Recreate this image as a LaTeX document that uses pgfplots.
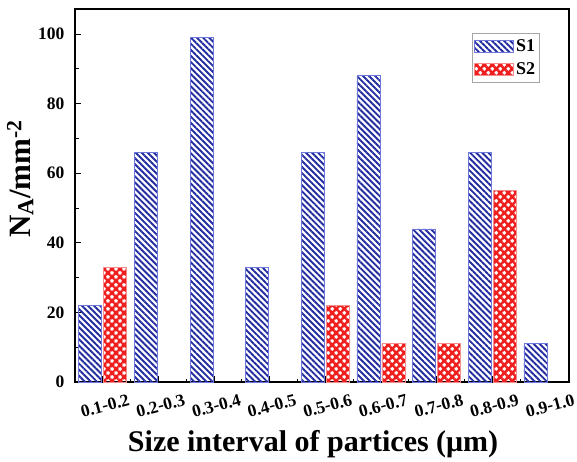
\documentclass[border=0pt]{standalone}
\usepackage{fontspec}
\setmainfont{Liberation Serif}
\usepackage{pgfplots}
\pgfplotsset{compat=1.18}
\usetikzlibrary{patterns,patterns.meta}

\definecolor{bluel}{RGB}{35,45,160}
\definecolor{blueb}{RGB}{110,120,220}
\definecolor{redl}{RGB}{238,30,30}
\definecolor{redb}{RGB}{245,140,140}

\pgfplotstableread{
x s1
0 22
1 66
2 99
3 33
4 66
5 88
6 44
7 66
8 11
}\sone
\pgfplotstableread{
x s2
0 33
4 22
5 11
6 11
7 55
}\stwo

\begin{document}
\begin{tikzpicture}
\useasboundingbox (0,0) rectangle (577pt,461pt);
\begin{axis}[
  at={(75pt,79pt)}, anchor=south west,
  scale only axis, width=494pt, height=373pt,
  ybar, bar width=23pt, bar shift auto,
  xmin=-0.5, xmax=8.38,
  ymin=0, ymax=107.2,
  axis line style={line width=1.3pt},
  xtick={0,...,8},
  xticklabels={0.1-0.2,0.2-0.3,0.3-0.4,0.4-0.5,0.5-0.6,0.6-0.7,0.7-0.8,0.8-0.9,0.9-1.0},
  minor xtick={0.5,1.5,...,7.5},
  ytick={0,20,...,100},
  minor ytick={10,30,...,90},
  tick align=inside,
  xtick pos=bottom, ytick pos=left,
  major tick length=6pt, minor tick length=3.5pt,
  tick style={line width=1pt, black},
  /pgf/number format/assume math mode=true,
  ticklabel style={font=\fontsize{17.5}{19}\selectfont\bfseries},
  xticklabel style={rotate=15, anchor=north, yshift=-14pt, xshift=-4pt},
  yticklabel style={xshift=-7pt},
  xlabel={Size interval of partices (μm)},
  xlabel style={font=\fontsize{30}{34}\selectfont\bfseries, at={(ticklabel cs:0.482)}, yshift=-5pt},
  ylabel={N\raisebox{-0.2ex}{\fontsize{23}{26}\selectfont A}/mm\textsuperscript{-2}},
  ylabel style={font=\fontsize{31}{34}\selectfont\bfseries, at={(ticklabel cs:0.545)}, yshift=-2pt},
  legend style={at={(0.94,0.935)}, anchor=north east, draw=gray!70, line width=0.6pt,
    font=\fontsize{18}{20}\selectfont\bfseries, row sep=6pt, inner xsep=2pt, inner ysep=4pt},
  legend image code/.code={
    \draw[#1] (0pt,-6pt) rectangle (39pt,6pt);},
]
\addplot[draw=blueb, line width=0.7pt, pattern={Lines[angle=-45,distance=4.3pt,line width=1.9pt]}, pattern color=bluel]
  table[x=x,y=s1]{\sone};
\addplot[draw=redb, line width=0.7pt, pattern={Lines[angle=45,distance=5.66pt,line width=2.5pt]}, pattern color=redl,
  postaction={pattern={Lines[angle=-45,distance=5.66pt,line width=2.5pt]}, pattern color=redl}]
  table[x=x,y=s2]{\stwo};
\legend{S1,S2}
\end{axis}
\end{tikzpicture}
\end{document}
